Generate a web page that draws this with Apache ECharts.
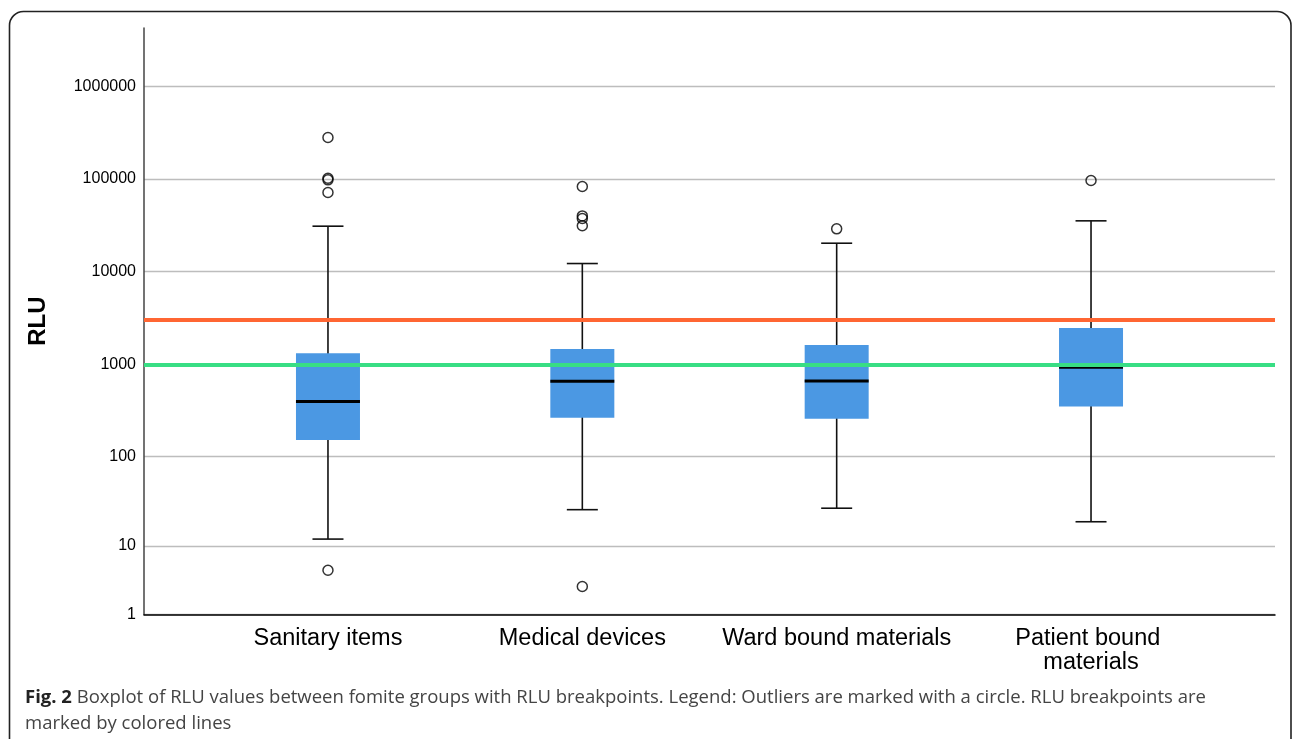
<!DOCTYPE html>
<html>
<head>
<meta charset="utf-8">
<script src="https://cdn.jsdelivr.net/npm/echarts@6/dist/echarts.min.js"></script>
<style>
html,body{margin:0;padding:0;background:#fff;}
#chart{width:1292px;height:739px;}
</style>
</head>
<body>
<div id="chart"></div>
<script>
// ---- data (RLU values) ----
const categories = ['Sanitary items', 'Medical devices', 'Ward bound materials', 'Patient bound materials'];
const lowerWhisker = [12, 26, 27, 19];
const q1Values     = [152, 265, 257, 349];
const medianValues = [396, 657, 661, 932];
const q3Values     = [1320, 1460, 1620, 2460];
const upperWhisker = [31000, 12250, 20300, 35400];
const outliersSanitary = [281000, 102000, 98000, 71600, 5];
const outliersMedical  = [83200, 40000, 37500, 31300, 3];
const outliersWard     = [29000];
const outliersPatient  = [96600];
const yTickValues = [1, 10, 100, 1000, 10000, 100000, 1000000];
const breakpointValues = [3000, 1000];
const breakpointColors = ['#ff6633', '#38de84'];
const yAxisTopValue = 4270000;

// safe-log transform used by the original figure: log10(1 + x)
const f = v => Math.log10(1 + v);
const inv = t => Math.round(Math.pow(10, t) - 1);

const boxData = categories.map((c, i) => [i, f(lowerWhisker[i]), f(q1Values[i]), f(medianValues[i]), f(q3Values[i]), f(upperWhisker[i])]);
const outlierGroups = [outliersSanitary, outliersMedical, outliersWard, outliersPatient];
const outlierData = [];
outlierGroups.forEach((g, i) => g.forEach(v => outlierData.push([i, f(v)])));

const yMin = f(1), yMax = f(yAxisTopValue);
const tickPos = yTickValues.map(f);

const chart = echarts.init(document.getElementById('chart'), null, {renderer: 'canvas'});
chart.setOption({
  backgroundColor: '#fff',
  animation: false,
  grid: [
    {left: 144, right: 17, top: 28, bottom: 124.6},
    {left: 200.8, right: 73.8, top: 28, bottom: 124.6}
  ],
  xAxis: [
    {type: 'value', gridIndex: 0, min: 0, max: 1,
     axisLine: {show: true, lineStyle: {color: '#000', width: 1.5}},
     axisTick: {show: false}, axisLabel: {show: false}, splitLine: {show: false}},
    {type: 'category', gridIndex: 1, data: categories, boundaryGap: true,
     axisLine: {show: false}, axisTick: {show: false}, splitLine: {show: false},
     axisLabel: {fontFamily: 'Liberation Sans, Arial, sans-serif', fontSize: 23.5, color: '#000',
                 margin: 12, lineHeight: 24, width: 238, overflow: 'break', interval: 0}}
  ],
  yAxis: [
    {type: 'value', gridIndex: 0, min: yMin, max: yMax,
     name: 'RLU', nameLocation: 'middle', nameRotate: 90, nameGap: 94,
     nameTextStyle: {fontFamily: 'Liberation Sans, Arial, sans-serif', fontSize: 24, fontWeight: 'bold', color: '#000'},
     axisLine: {show: true, lineStyle: {color: '#444', width: 1.5}},
     axisTick: {show: false, customValues: tickPos},
     axisLabel: {customValues: tickPos, formatter: v => String(inv(v)),
                 fontFamily: 'Liberation Sans, Arial, sans-serif', fontSize: 16, color: '#000', margin: 8},
     splitLine: {show: true, lineStyle: {color: '#bdbdbd', width: 1.3}}},
    {type: 'value', gridIndex: 1, min: yMin, max: yMax, show: false,
     splitLine: {show: false}}
  ],
  series: [
    {
      type: 'custom', name: 'box', xAxisIndex: 1, yAxisIndex: 1, z: 2,
      encode: {x: 0, y: [1, 2, 3, 4, 5]},
      data: boxData,
      renderItem: function (params, api) {
        const x = api.value(0);
        const lo = api.coord([x, api.value(1)]);
        const q1 = api.coord([x, api.value(2)]);
        const md = api.coord([x, api.value(3)]);
        const q3 = api.coord([x, api.value(4)]);
        const hi = api.coord([x, api.value(5)]);
        const cx = lo[0], bw = 64, cw = 31;
        const ls = {stroke: '#111', lineWidth: 1.6};
        return {type: 'group', children: [
          {type: 'line', shape: {x1: cx, y1: hi[1], x2: cx, y2: lo[1]}, style: ls},
          {type: 'line', shape: {x1: cx - cw / 2, y1: hi[1], x2: cx + cw / 2, y2: hi[1]}, style: ls},
          {type: 'line', shape: {x1: cx - cw / 2, y1: lo[1], x2: cx + cw / 2, y2: lo[1]}, style: ls},
          {type: 'rect', shape: {x: cx - bw / 2, y: q3[1], width: bw, height: q1[1] - q3[1]}, style: {fill: '#4b98e3'}},
          {type: 'line', shape: {x1: cx - bw / 2, y1: md[1], x2: cx + bw / 2, y2: md[1]}, style: {stroke: '#000', lineWidth: 3}}
        ]};
      }
    },
    {
      type: 'scatter', name: 'outliers', xAxisIndex: 1, yAxisIndex: 1, z: 3,
      symbol: 'circle', symbolSize: 10,
      itemStyle: {color: 'rgba(255,255,255,0)', borderColor: '#000', borderWidth: 1.5},
      data: outlierData
    },
    {
      type: 'line', name: 'breakpoints', xAxisIndex: 0, yAxisIndex: 0, data: [],
      markLine: {
        silent: true, symbol: 'none', z: 6, label: {show: false},
        data: breakpointValues.map((v, i) => ({yAxis: f(v), lineStyle: {color: breakpointColors[i], width: 4, type: 'solid'}}))
      }
    }
  ],
  graphic: [
    {type: 'rect', silent: true, z: 10,
     shape: {x: 9.5, y: 11.5, width: 1281.5, height: 800, r: 14},
     style: {fill: 'none', stroke: '#222', lineWidth: 1.6}},
    {type: 'text', silent: true, left: 25, top: 688,
     style: {text: '{b|Fig. 2} Boxplot of RLU values between fomite groups with RLU breakpoints. Legend: Outliers are marked with a circle. RLU breakpoints are',
             fontFamily: 'Open Sans, sans-serif', fontSize: 18.5, fill: '#444',
             rich: {b: {fontFamily: 'Open Sans, sans-serif', fontSize: 18.5, fontWeight: 'bold', fill: '#222'}}}},
    {type: 'text', silent: true, left: 25, top: 714,
     style: {text: 'marked by colored lines', fontFamily: 'Open Sans, sans-serif', fontSize: 18.5, fill: '#444'}}
  ]
});
</script>
</body>
</html>
